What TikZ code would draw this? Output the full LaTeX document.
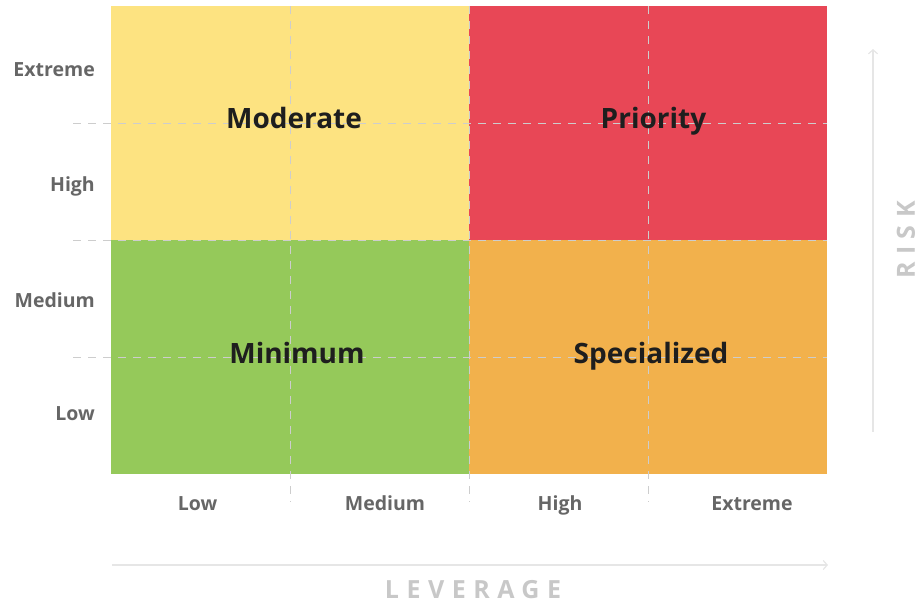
\documentclass[tikz,border=0pt]{standalone}
\usepackage{fontspec}
\setmainfont{Open Sans}
\usetikzlibrary{arrows.meta}

\definecolor{cellyellow}{HTML}{FDE381}
\definecolor{cellred}{HTML}{E84756}
\definecolor{cellgreen}{HTML}{95C95A}
\definecolor{cellorange}{HTML}{F2B14C}
\definecolor{gridgray}{HTML}{CDCDCD}
\definecolor{ticktext}{HTML}{666666}
\definecolor{quadtext}{HTML}{1E1E1E}
\definecolor{axisline}{HTML}{E6E6E6}
\definecolor{axistext}{HTML}{C8C8C8}

\tikzset{
  cell/.style={minimum width=358pt, minimum height=234pt, inner sep=0pt, draw=none},
  quadlabel/.style={font=\bfseries\fontsize{28}{32}\selectfont, text=quadtext, inner sep=0pt, anchor=base},
  ticklabel/.style={font=\bfseries\fontsize{19.5}{23}\selectfont, text=ticktext, inner sep=0pt, anchor=base},
  risklabel/.style={ticklabel, anchor=base east},
  gridline/.style={gridgray, line width=1pt, dash pattern=on 8pt off 7pt},
  axisarrow/.style={axisline, line width=2pt, -{Straight Barb[length=4pt,width=9pt,line width=1.2pt]}},
  axislabel/.style={font=\bfseries\fontsize{25}{30}\selectfont\addfontfeature{LetterSpace=30}, text=axistext, inner sep=0pt}
}

\begin{document}
\begin{tikzpicture}[x=1pt,y=-1pt]
\useasboundingbox (0,0) rectangle (921,608);

% quadrant cells
\node[cell, fill=cellyellow] (moderate) at (290,123) {};
\node[cell, fill=cellred]    (priority) at (648,123) {};
\node[cell, fill=cellgreen]  (minimum)  at (290,357) {};
\node[cell, fill=cellorange] (special)  at (648,357) {};

% dashed guide lines
\coordinate (h1a) at (73,123);  \coordinate (h1b) at (827,123);
\coordinate (h2a) at (73,240);  \coordinate (h2b) at (827,240);
\coordinate (h3a) at (73,357);  \coordinate (h3b) at (827,357);
\coordinate (v1a) at (290,6);   \coordinate (v1b) at (290,502);
\coordinate (v2a) at (469,6);   \coordinate (v2b) at (469,502);
\coordinate (v3a) at (648,6);   \coordinate (v3b) at (648,502);
\draw[gridline] (h1a) -- (h1b);
\draw[gridline] (h2a) -- (h2b);
\draw[gridline] (h3a) -- (h3b);
\draw[gridline] (v1a) -- (v1b);
\draw[gridline] (v2a) -- (v2b);
\draw[gridline] (v3a) -- (v3b);

% quadrant names (positioned on their baselines)
\node[quadlabel] (tmoderate) at (294,128) {Moderate};
\node[quadlabel] (tpriority) at (653.5,128) {Priority};
\node[quadlabel] (tminimum)  at (297,363) {Minimum};
\node[quadlabel] (tspecial)  at (651,363) {Specialized};

% risk levels
\node[risklabel] (rext)  at (95,76)  {Extreme};
\node[risklabel] (rhigh) at (95,191) {High};
\node[risklabel] (rmed)  at (95,307) {Medium};
\node[risklabel] (rlow)  at (95,420) {Low};

% leverage levels
\node[ticklabel] (llow)  at (197.5,510) {Low};
\node[ticklabel] (lmed)  at (385,510) {Medium};
\node[ticklabel] (lhigh) at (560,510) {High};
\node[ticklabel] (lext)  at (752,510) {Extreme};

% axes
\coordinate (xa0) at (112,565); \coordinate (xa1) at (828,565);
\coordinate (ya0) at (873,432); \coordinate (ya1) at (873,49);
\draw[axisarrow] (xa0) -- (xa1);
\draw[axisarrow] (ya0) -- (ya1);
\node[axislabel] (leverage) at (473,590) {LEVERAGE};
\node[axislabel, rotate=90] (risk) at (906,240) {RISK};
\end{tikzpicture}
\end{document}
